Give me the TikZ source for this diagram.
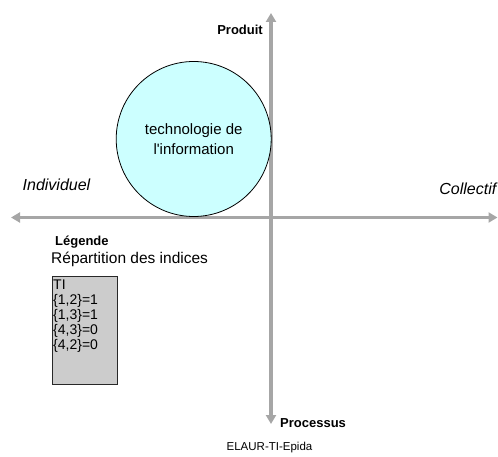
\documentclass[tikz,border=0pt]{standalone}
\usepackage{fontspec}
\setmainfont{Liberation Sans}[Ligatures=TeXOff]
\usetikzlibrary{arrows.meta}
\definecolor{axisgray}{RGB}{166,166,166}
\definecolor{circfill}{RGB}{204,255,255}
\definecolor{boxfill}{RGB}{204,204,204}
\definecolor{boxline}{RGB}{40,40,40}
\begin{document}
\begin{tikzpicture}[x=1pt,y=-1pt,
  axis/.style={draw=axisgray, line width=3.3pt,
    {Triangle[length=9pt,width=10pt]}-{Triangle[length=9pt,width=10pt]}},
  txt/.style={inner sep=0pt, text=black},
  axlabel/.style={txt, font=\fontsize{16}{18}\selectfont\itshape},
  boldlabel/.style={txt, font=\fontsize{13}{15}\selectfont\bfseries}]
\useasboundingbox (0,0) rectangle (498,457);
% axes
\coordinate (left) at (11,217.5);
\coordinate (right) at (497.5,217.5);
\coordinate (top) at (271,13);
\coordinate (bottom) at (271,424);
\draw[axis] (left) -- (right);
\draw[axis] (top) -- (bottom);
% circle
\node[circle, draw=black, line width=0.8pt, fill=circfill, minimum size=155pt,
  inner sep=0pt, align=center, font=\fontsize{15}{19.3}\selectfont]
  (tech) at (193.7,139) {technologie de\\l'information};
% axis labels
\node[boldlabel, anchor=base east] (produit) at (263,35) {Produit};
\node[boldlabel, anchor=base west] (processus) at (280,427.3) {Processus};
\node[axlabel, anchor=base west] (indiv) at (22.5,191) {Individuel};
\node[axlabel, anchor=base east] (collectif) at (496.5,195) {Collectif};
% legend
\node[boldlabel, anchor=base west] (legende) at (55,245) {Légende};
\node[txt, anchor=base west, font=\fontsize{15.5}{18}\selectfont] (repart) at (51,263.3) {Répartition des indices};
\node[draw=boxline, line width=0.9pt, fill=boxfill, anchor=north west,
  minimum width=65.6pt, minimum height=108.3pt, inner sep=0pt] (box) at (51.7,275.7) {};
\node[txt, anchor=north west, align=left, font=\fontsize{14}{15}\selectfont]
  (indices) at (53,279.5) {TI\\\{1,2\}=1\\\{1,3\}=1\\\{4,3\}=0\\\{4,2\}=0};
% footer
\node[txt, anchor=base, font=\fontsize{11.5}{14}\selectfont] (footer) at (269.5,450.5) {ELAUR-TI-Epida};
\end{tikzpicture}
\end{document}
